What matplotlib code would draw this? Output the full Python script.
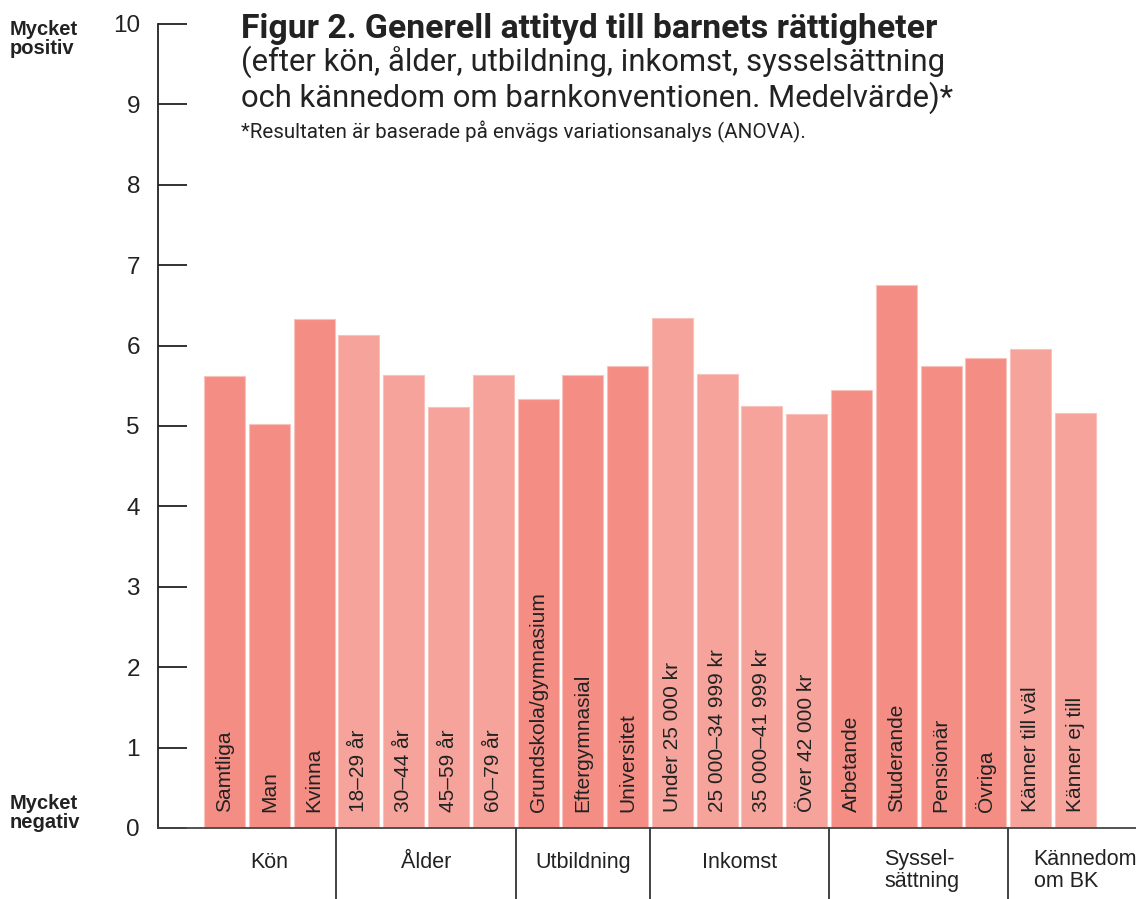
import matplotlib
matplotlib.use("Agg")
import matplotlib.pyplot as plt

# data
labels = ["Samtliga", "Man", "Kvinna",
          "18–29 år", "30–44 år", "45–59 år", "60–79 år",
          "Grundskola/gymnasium", "Eftergymnasial", "Universitet",
          "Under 25 000 kr", "25 000–34 999 kr", "35 000–41 999 kr", "Över 42 000 kr",
          "Arbetande", "Studerande", "Pensionär", "Övriga",
          "Känner till väl", "Känner ej till"]
values = [5.62, 5.02, 6.33,
          6.13, 5.63, 5.24, 5.63,
          5.34, 5.63, 5.75,
          6.34, 5.65, 5.25, 5.15,
          5.45, 6.75, 5.75, 5.85,
          5.96, 5.16]
groups = ["Kön", "Ålder", "Utbildning", "Inkomst", "Syssel-\nsättning", "Kännedom\nom BK"]
group_sizes = [3, 4, 3, 4, 4, 2]
group_shade = ["dark", "light", "dark", "light", "dark", "light"]
yticks = list(range(0, 11))

dark = "#f48e85"
light = "#f5a39b"
ink = "#222222"
head = "Roboto"

plt.rcParams["font.family"] = ["Liberation Sans", "DejaVu Sans"]

fig = plt.figure(figsize=(11.36, 8.99), dpi=100)
ax = fig.add_axes([158 / 1136, 71 / 899, 1 - 158 / 1136, 804 / 899])

colors = []
for size, shade in zip(group_sizes, group_shade):
    colors += [dark if shade == "dark" else light] * size

x = list(range(len(values)))
ax.bar(x, values, width=0.915, color=colors, edgecolor="#f8c3bd", linewidth=0.8, zorder=2)

for xi, lab in zip(x, labels):
    ax.text(xi, 0.2, lab, rotation=90, ha="center", va="bottom",
            fontsize=15, color=ink, zorder=3)

ax.set_xlim(-1.484, 20.35)
ax.set_ylim(0, 10)
ax.set_yticks(yticks)
ax.set_xticks([])
ax.tick_params(axis="y", direction="in", length=21, width=1.3, color=ink,
               labelsize=17.5, labelcolor=ink, pad=13)
for s in ["top", "right"]:
    ax.spines[s].set_visible(False)
ax.spines["left"].set_color(ink)
ax.spines["left"].set_linewidth(1.3)
ax.spines["bottom"].set_color("#444444")
ax.spines["bottom"].set_linewidth(1.3)

# group separators and labels below the axis
start = 0
for g, size in zip(groups, group_sizes):
    end = start + size
    if end < len(values):
        ax.plot([end - 0.5, end - 0.5], [0, -0.12], transform=ax.get_xaxis_transform(),
                color=ink, lw=1.2, clip_on=False)
    cx = (start + end - 1) / 2
    if g.startswith("Kännedom"):
        cx += 0.72
    elif g.startswith("Syssel"):
        cx += 0.07
    ax.text(cx, -0.043 if "\n" not in g else -0.053, g, transform=ax.get_xaxis_transform(),
            ha="center", va="center", fontsize=15.5, color=ink, linespacing=1.1,
            multialignment="left")
    start = end

fig.text(10 / 1136, 1 - 39 / 899, "Mycket\npositiv", ha="left", va="center",
         fontsize=14.5, fontweight="bold", color=ink, linespacing=1.05)
fig.text(10 / 1136, 1 - 813 / 899, "Mycket\nnegativ", ha="left", va="center",
         fontsize=14.5, fontweight="bold", color=ink, linespacing=1.05)

fig.text(241 / 1136, 1 - 29 / 899, "Figur 2. Generell attityd till barnets rättigheter",
         ha="left", va="center", fontsize=24.3, fontweight="bold", color=ink,
         family=head)
fig.text(241 / 1136, 1 - 80 / 899,
         "(efter kön, ålder, utbildning, inkomst, sysselsättning\noch kännedom om barnkonventionen. Medelvärde)*",
         ha="left", va="center", fontsize=22.3, color=ink, family=head, linespacing=1.12)
fig.text(241 / 1136, 1 - 132 / 899, "*Resultaten är baserade på envägs variationsanalys (ANOVA).",
         ha="left", va="center", fontsize=14.8, color=ink, family=head)

fig.savefig("out.png", dpi=100)
